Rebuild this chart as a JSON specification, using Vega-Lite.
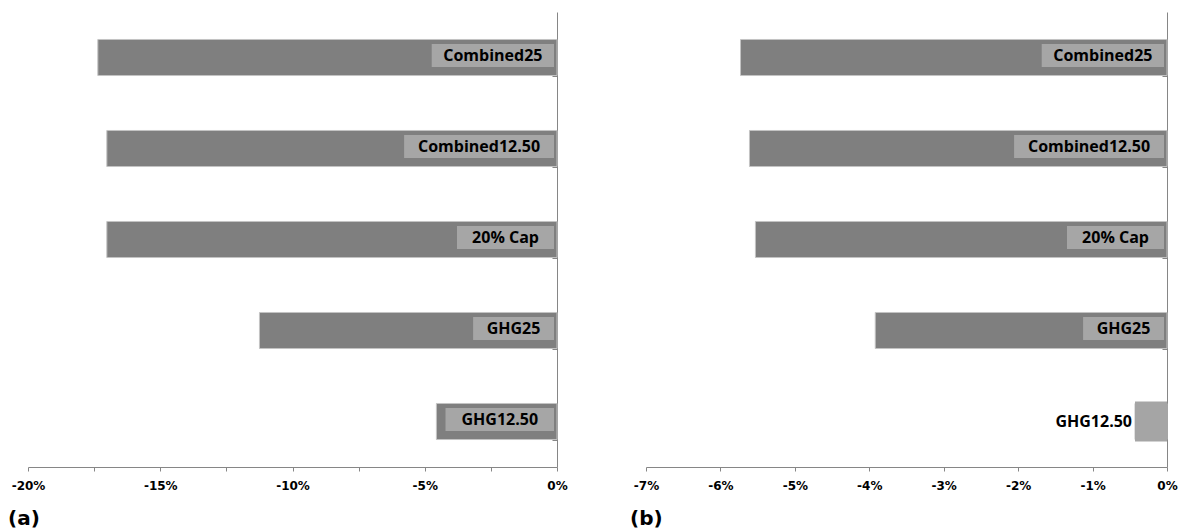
{
  "$schema": "https://vega.github.io/schema/vega-lite/v6.json",
  "background": "white",
  "padding": {"left": 8, "top": 12, "right": 0, "bottom": 0},
  "datasets": {
    "a": [
      {"label": "Combined25", "value": -17.36},
      {"label": "Combined12.50", "value": -17.02},
      {"label": "20% Cap", "value": -17.02},
      {"label": "GHG25", "value": -11.25},
      {"label": "GHG12.50", "value": -4.56}
    ],
    "b": [
      {"label": "Combined25", "value": -5.73},
      {"label": "Combined12.50", "value": -5.61},
      {"label": "20% Cap", "value": -5.53},
      {"label": "GHG25", "value": -3.92},
      {"label": "GHG12.50", "value": -0.43}
    ]
  },
  "spacing": 89,
  "bounds": "flush",
  "hconcat": [
    {
      "width": 529,
      "height": 455,
      "data": {"name": "a"},
      "title": {"text": "(a)", "orient": "bottom", "anchor": "start", "frame": "group", "dx": -20, "offset": 18, "font": "DejaVu Sans", "fontSize": 20, "fontWeight": "bold", "color": "black"},
      "transform": [
        {"calculate": "length(replace(datum.label, regexp('[^A-Z%]', 'g'), ''))", "as": "nWide"},
        {"calculate": "datum.nWide * 11.5 + (length(datum.label) - datum.nWide) * 9.2 + 28", "as": "boxPx"},
        {"calculate": "-(datum.boxPx + 3) / 26.45", "as": "boxStart"},
        {"calculate": "-3 / 26.45", "as": "boxEnd"},
        {"calculate": "(datum.boxStart + datum.boxEnd) / 2", "as": "boxMid"},
        {"calculate": "-datum.value * 26.45 < datum.boxPx + 6", "as": "outside"}
      ],
      "encoding": {
        "y": {
          "field": "label", "type": "nominal", "sort": null,
          "scale": {"paddingInner": 0.604, "paddingOuter": 0.302},
          "axis": {"orient": "left", "offset": -529, "labels": false, "title": null, "tickBand": "extent", "domainColor": "#868686", "tickColor": "#868686", "tickSize": 5}
        }
      },
      "layer": [
        {
          "mark": {"type": "bar", "color": "#7f7f7f", "stroke": "#c4c4c4", "strokeWidth": 1},
          "encoding": {
            "x": {
              "field": "value", "type": "quantitative",
              "scale": {"domain": [-20, 0], "nice": false},
              "axis": {
                "values": [-20, -17.5, -15, -12.5, -10, -7.5, -5, -2.5, 0],
                "labelExpr": "datum.value % 5 == 0 ? datum.value + '%' : ''",
                "title": null, "grid": false, "labelOverlap": false, "labelFlush": false,
                "domainColor": "#868686", "tickColor": "#868686", "tickSize": 4,
                "labelFont": "DejaVu Sans", "labelFontWeight": "bold", "labelFontSize": 12, "labelColor": "black", "labelPadding": 9
              }
            }
          }
        },
        {
          "transform": [{"filter": "datum.outside"}],
          "mark": {"type": "bar", "color": "#a5a5a5", "height": 40},
          "encoding": {
            "x": {"field": "value", "type": "quantitative", "scale": {"domain": [-20, 0], "nice": false}, "title": null},
            "x2": {"datum": 0}
          }
        },
        {
          "transform": [{"filter": "!datum.outside"}],
          "mark": {"type": "bar", "color": "#a6a6a6", "height": 23, "yOffset": -2},
          "encoding": {
            "x": {"field": "boxStart", "type": "quantitative", "scale": {"domain": [-20, 0], "nice": false}, "title": null},
            "x2": {"field": "boxEnd"}
          }
        },
        {
          "transform": [{"filter": "!datum.outside"}],
          "mark": {"type": "text", "align": "center", "baseline": "middle", "dy": -2, "font": "Open Sans", "fontWeight": "bold", "fontSize": 16, "color": "black"},
          "encoding": {
            "x": {"field": "boxMid", "type": "quantitative", "scale": {"domain": [-20, 0], "nice": false}, "title": null},
            "text": {"field": "label"}
          }
        },
        {
          "transform": [{"filter": "datum.outside"}],
          "mark": {"type": "text", "align": "right", "baseline": "middle", "dx": -3, "font": "Open Sans", "fontWeight": "bold", "fontSize": 16, "color": "black"},
          "encoding": {
            "x": {"field": "value", "type": "quantitative", "scale": {"domain": [-20, 0], "nice": false}, "title": null},
            "text": {"field": "label"}
          }
        }
      ]
    },
    {
      "width": 521,
      "height": 455,
      "data": {"name": "b"},
      "title": {"text": "(b)", "orient": "bottom", "anchor": "start", "frame": "group", "dx": -16, "offset": 18, "font": "DejaVu Sans", "fontSize": 20, "fontWeight": "bold", "color": "black"},
      "transform": [
        {"calculate": "length(replace(datum.label, regexp('[^A-Z%]', 'g'), ''))", "as": "nWide"},
        {"calculate": "datum.nWide * 11.5 + (length(datum.label) - datum.nWide) * 9.2 + 28", "as": "boxPx"},
        {"calculate": "-(datum.boxPx + 3) / 74.43", "as": "boxStart"},
        {"calculate": "-3 / 74.43", "as": "boxEnd"},
        {"calculate": "(datum.boxStart + datum.boxEnd) / 2", "as": "boxMid"},
        {"calculate": "-datum.value * 74.43 < datum.boxPx + 6", "as": "outside"}
      ],
      "encoding": {
        "y": {
          "field": "label", "type": "nominal", "sort": null,
          "scale": {"paddingInner": 0.604, "paddingOuter": 0.302},
          "axis": {"orient": "left", "offset": -521, "labels": false, "title": null, "tickBand": "extent", "domainColor": "#868686", "tickColor": "#868686", "tickSize": 5}
        }
      },
      "layer": [
        {
          "mark": {"type": "bar", "color": "#7f7f7f", "stroke": "#c4c4c4", "strokeWidth": 1},
          "encoding": {
            "x": {
              "field": "value", "type": "quantitative",
              "scale": {"domain": [-7, 0], "nice": false},
              "axis": {
                "values": [-7, -6, -5, -4, -3, -2, -1, 0],
                "labelExpr": "datum.value + '%'",
                "title": null, "grid": false, "labelOverlap": false, "labelFlush": false,
                "domainColor": "#868686", "tickColor": "#868686", "tickSize": 4,
                "labelFont": "DejaVu Sans", "labelFontWeight": "bold", "labelFontSize": 12, "labelColor": "black", "labelPadding": 9
              }
            }
          }
        },
        {
          "transform": [{"filter": "datum.outside"}],
          "mark": {"type": "bar", "color": "#a5a5a5", "height": 40},
          "encoding": {
            "x": {"field": "value", "type": "quantitative", "scale": {"domain": [-7, 0], "nice": false}, "title": null},
            "x2": {"datum": 0}
          }
        },
        {
          "transform": [{"filter": "!datum.outside"}],
          "mark": {"type": "bar", "color": "#a6a6a6", "height": 23, "yOffset": -2},
          "encoding": {
            "x": {"field": "boxStart", "type": "quantitative", "scale": {"domain": [-7, 0], "nice": false}, "title": null},
            "x2": {"field": "boxEnd"}
          }
        },
        {
          "transform": [{"filter": "!datum.outside"}],
          "mark": {"type": "text", "align": "center", "baseline": "middle", "dy": -2, "font": "Open Sans", "fontWeight": "bold", "fontSize": 16, "color": "black"},
          "encoding": {
            "x": {"field": "boxMid", "type": "quantitative", "scale": {"domain": [-7, 0], "nice": false}, "title": null},
            "text": {"field": "label"}
          }
        },
        {
          "transform": [{"filter": "datum.outside"}],
          "mark": {"type": "text", "align": "right", "baseline": "middle", "dx": -3, "font": "Open Sans", "fontWeight": "bold", "fontSize": 16, "color": "black"},
          "encoding": {
            "x": {"field": "value", "type": "quantitative", "scale": {"domain": [-7, 0], "nice": false}, "title": null},
            "text": {"field": "label"}
          }
        }
      ]
    }
  ],
  "config": {"view": {"stroke": null}}
}
